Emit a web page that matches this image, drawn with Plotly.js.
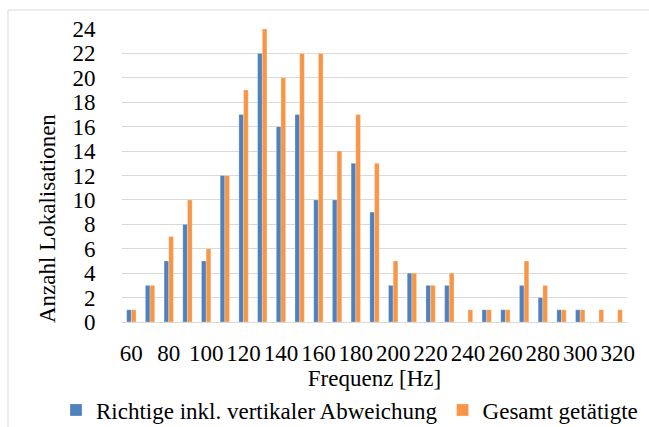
<!DOCTYPE html>
<html>
<head>
<meta charset="utf-8">
<script src="https://cdn.plot.ly/plotly-3.0.1.min.js"></script>
<style>html,body{margin:0;padding:0;background:#fff;}#chart{width:649px;height:427px;}</style>
</head>
<body>
<div id="chart"></div>
<script>
var frequencies = [60,70,80,90,100,110,120,130,140,150,160,170,180,190,200,210,220,230,240,250,260,270,280,290,300,310,320];
var richtige = [1,3,5,8,5,12,17,22,16,17,10,10,13,9,3,4,3,3,0,1,1,3,2,1,1,0,0];
var gesamt   = [1,3,7,10,6,12,19,24,20,22,22,14,17,13,5,4,3,4,1,1,1,5,3,1,1,1,1];
var tickValues = [60,80,100,120,140,160,180,200,220,240,260,280,300,320];
var yTicks = [0,2,4,6,8,10,12,14,16,18,20,22,24];
var seriesNames = ["Richtige inkl. vertikaler Abweichung", "Gesamt getätigte"];

var FONT = '"Liberation Serif", "Times New Roman", serif';
var FS = 23;
var L = 122, R = 22, T = 29, B = 105, W = 649, H = 427;
var pw = W - L - R, ph = H - T - B;
function px(x){ return (x - L) / pw; }
function py(y){ return (H - B - y) / ph; }

var traces = [
  {type:'bar', name: seriesNames[0], x: frequencies, y: richtige,
   marker:{color:'#4F81BD', line:{color:'rgba(255,255,255,0.5)', width:0.5}}},
  {type:'bar', name: seriesNames[1], x: frequencies, y: gesamt,
   marker:{color:'#F79646', line:{color:'rgba(255,255,255,0.5)', width:0.5}}}
];

var layout = {
  width: W, height: H,
  margin: {l:L, r:R, t:T, b:B, pad:0, autoexpand:false},
  paper_bgcolor:'#fff', plot_bgcolor:'#fff',
  font: {family: FONT, size: FS, color:'#000'},
  barmode:'group', bargap:0.5, bargroupgap:0,
  showlegend:true,
  legend:{orientation:'h', x: px(56), xanchor:'left', y: py(410), yanchor:'middle',
          font:{family:FONT, size:FS, color:'#000'}, itemwidth:30, tracegroupgap:0},
  xaxis:{range:[55,325], tickmode:'array', tickvals: tickValues, ticktext: tickValues.map(String),
         showgrid:false, zeroline:false, showline:false, ticks:'outside', ticklen:10, tickcolor:'rgba(0,0,0,0)',
         tickfont:{family:FONT, size:FS, color:'#000'}, tickangle:0, automargin:false,
         title:{text:'Frequenz [Hz]', font:{family:FONT, size:FS, color:'#000'}, standoff:0}},
  yaxis:{range:[0,24], tickmode:'array', tickvals: yTicks, showgrid:true, gridcolor:'#d9d9d9', gridwidth:1,
         zeroline:true, zerolinecolor:'#d9d9d9', zerolinewidth:1, showline:false, automargin:false,
         ticks:'outside', ticklen:21, tickcolor:'rgba(0,0,0,0)',
         tickfont:{family:FONT, size:FS, color:'#000'}},
  annotations:[
    {text:'Anzahl Lokalisationen', xref:'paper', yref:'paper', x: px(47), y: py(219),
     showarrow:false, textangle:-90, xanchor:'center', yanchor:'middle',
     font:{family:FONT, size:FS, color:'#000'}}
  ],
  shapes:[
    {type:'rect', xref:'paper', yref:'paper', x0: px(8), x1: px(700), y0: py(480), y1: py(10),
     line:{color:'#d9d9d9', width:1}, fillcolor:'rgba(0,0,0,0)', layer:'below'}
  ]
};

Plotly.newPlot('chart', traces, layout, {displayModeBar:false, staticPlot:true});
</script>
</body>
</html>
